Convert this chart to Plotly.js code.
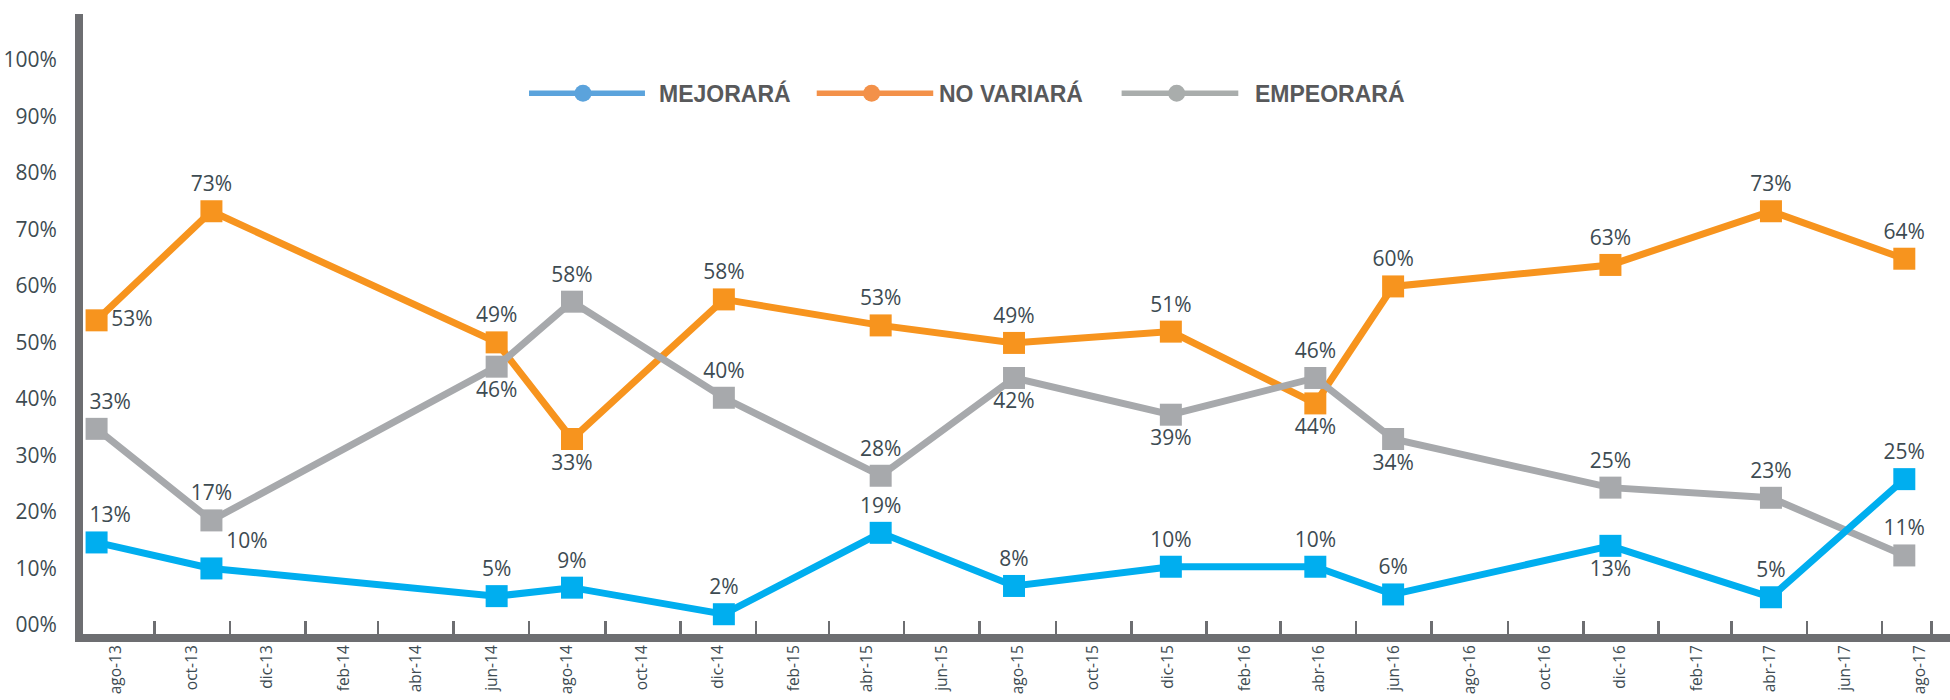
<!DOCTYPE html>
<html>
<head>
<meta charset="utf-8">
<script src="https://cdn.plot.ly/plotly-3.0.1.min.js"></script>
<style>html,body{margin:0;padding:0;background:#fff;}#chart{width:1950px;height:700px;}</style>
</head>
<body>
<div id="chart"></div>
<script>
// Survey dates (positions)
const fechas = ["2013-07-16","2013-10-17","2014-06-05","2014-08-05","2014-12-06","2015-04-12","2015-07-29","2015-12-03","2016-03-29","2016-05-31","2016-11-23","2017-04-02","2017-07-19"];

// Plotted values (%)
const mejorara  = [14.6, 10.0, 5.1, 6.6, 1.9, 16.3, 6.9, 10.3, 10.3, 5.4, 14.0, 4.9, 25.8];
const noVariara = [53.9, 73.2, 50.0, 32.9, 57.6, 53.0, 49.9, 51.9, 39.2, 59.9, 63.7, 73.2, 64.8];
const empeorara = [34.7, 18.5, 45.7, 57.2, 40.2, 26.4, 43.7, 37.2, 43.7, 32.9, 24.3, 22.5, 12.3];

// Data labels as printed
const etiquetasMejorara  = ["13%","10%","5%","9%","2%","19%","8%","10%","10%","6%","13%","5%","25%"];
const etiquetasNoVariara = ["53%","73%","49%","33%","58%","53%","49%","51%","44%","60%","63%","73%","64%"];
const etiquetasEmpeorara = ["33%","17%","46%","58%","40%","28%","42%","39%","46%","34%","25%","23%","11%"];

// X axis tick labels
const xTickVals = ["2013-08-01","2013-10-01","2013-12-01","2014-02-01","2014-04-01","2014-06-01","2014-08-01","2014-10-01","2014-12-01","2015-02-01","2015-04-01","2015-06-01","2015-08-01","2015-10-01","2015-12-01","2016-02-01","2016-04-01","2016-06-01","2016-08-01","2016-10-01","2016-12-01","2017-02-01","2017-04-01","2017-06-01","2017-08-01"];
const xTickText = ["ago-13","oct-13","dic-13","feb-14","abr-14","jun-14","ago-14","oct-14","dic-14","feb-15","abr-15","jun-15","ago-15","oct-15","dic-15","feb-16","abr-16","jun-16","ago-16","oct-16","dic-16","feb-17","abr-17","jun-17","ago-17"];
const xTickMarks = ["2013-09-01","2013-11-01","2014-01-01","2014-03-01","2014-05-01","2014-07-01","2014-09-01","2014-11-01","2015-01-01","2015-03-01","2015-05-01","2015-07-01","2015-09-01","2015-11-01","2016-01-01","2016-03-01","2016-05-01","2016-07-01","2016-09-01","2016-11-01","2017-01-01","2017-03-01","2017-05-01","2017-07-01","2017-08-10"];

// Y axis tick labels
const yTickVals = [0,10,20,30,40,50,60,70,80,90,100];
const yTickText = ["00%","10%","20%","30%","40%","50%","60%","70%","80%","90%","100%"];

const seriesNames = ["MEJORARÁ","NO VARIARÁ","EMPEORARÁ"];
const lineColors = ["#00aeef","#f7941e","#a7a9ac"];
const legendColors = ["#5ba3dc","#f39149","#a9adac"];

const posMejorara  = ["top center","top right","top center","top center","top center","top center","top center","top center","top center","top center","bottom center","top center","top center"];
const posNoVariara = ["middle right","top center","top center","bottom center","top center","top center","top center","top center","bottom center","top center","top center","top center","top center"];
const posEmpeorara = ["top center","top center","bottom center","top center","top center","top center","bottom center","bottom center","top center","bottom center","top center","top center","top center"];

const labelFont = {family:"Open Sans, Noto Sans, sans-serif", size:21, color:"#3d4b52"};

// first labels sit slightly right of their point (next to the y axis)
const pad = "\u00a0\u00a0\u00a0\u00a0\u00a0";
function shiftFirst(arr, pos){
  return arr.map((t,i)=> (i===0 && pos[i]==="top center") ? pad+t : t);
}

function serie(name, y, text, pos, color){
  return {
    type:"scatter", mode:"lines+markers+text", name:name, x:fechas, y:y,
    text:shiftFirst(text,pos), textposition:pos, textfont:labelFont,
    line:{color:color, width:7},
    marker:{symbol:"square", size:22, color:color},
    cliponaxis:false, showlegend:false, hoverinfo:"skip"
  };
}

const data = [
  serie(seriesNames[1], noVariara, etiquetasNoVariara, posNoVariara, lineColors[1]),
  serie(seriesNames[2], empeorara, etiquetasEmpeorara, posEmpeorara, lineColors[2]),
  serie(seriesNames[0], mejorara, etiquetasMejorara, posMejorara, lineColors[0])
];

// Custom legend (line with dot + bold label)
const legendY = 0.8721;
const legendLines = [[0.2389,0.3010,0.2678,0.3073],[0.3930,0.4554,0.4224,0.4573],[0.5563,0.6188,0.5858,0.6267]];
const shapes = [];
const annotations = [];
legendLines.forEach((p,i)=>{
  shapes.push({type:"line", xref:"paper", yref:"paper", x0:p[0], x1:p[1], y0:legendY, y1:legendY, line:{color:legendColors[i], width:5.5}});
  shapes.push({type:"circle", xref:"paper", yref:"paper", xsizemode:"pixel", ysizemode:"pixel", xanchor:p[2], yanchor:legendY, x0:-8.5, x1:8.5, y0:-8.5, y1:8.5, fillcolor:legendColors[i], line:{width:0}});
  annotations.push({xref:"paper", yref:"paper", x:p[3], y:legendY, xanchor:"left", yanchor:"middle", showarrow:false, text:"<b>"+seriesNames[i]+"</b>", font:{family:"Liberation Sans, Arial, sans-serif", size:23, color:"#58595b"}});
});

const layout = {
  width:1950, height:700,
  margin:{l:83, r:0, t:14, b:66, pad:0},
  paper_bgcolor:"#ffffff", plot_bgcolor:"#ffffff",
  showlegend:false, hovermode:false,
  xaxis:{
    type:"date", range:["2013-07-05","2017-08-25"],
    tickmode:"array", tickvals:xTickVals, ticktext:xTickText, tickangle:-90,
    ticks:"", showgrid:false, zeroline:false, layer:"below traces",
    showline:true, linecolor:"#6d6e71", linewidth:8,
    ticklabelstandoff:-3,
    tickfont:{family:"Open Sans, Noto Sans, sans-serif", size:15.5, color:"#3d4b52"},
    minor:{tickmode:"array", tickvals:xTickMarks, ticks:"inside", ticklen:13, tickwidth:2.5, tickcolor:"#6d6e71", showgrid:false}
  },
  yaxis:{
    range:[-1.6,108.1], tickmode:"array", tickvals:yTickVals, ticktext:yTickText,
    ticks:"", showgrid:false, zeroline:false, layer:"below traces",
    showline:true, linecolor:"#6d6e71", linewidth:8,
    ticklabelstandoff:14,
    tickfont:{family:"Open Sans, Noto Sans, sans-serif", size:21, color:"#3d4b52"}
  },
  shapes:shapes,
  annotations:annotations
};

Plotly.newPlot("chart", data, layout, {displayModeBar:false, staticPlot:true});
</script>
</body>
</html>
